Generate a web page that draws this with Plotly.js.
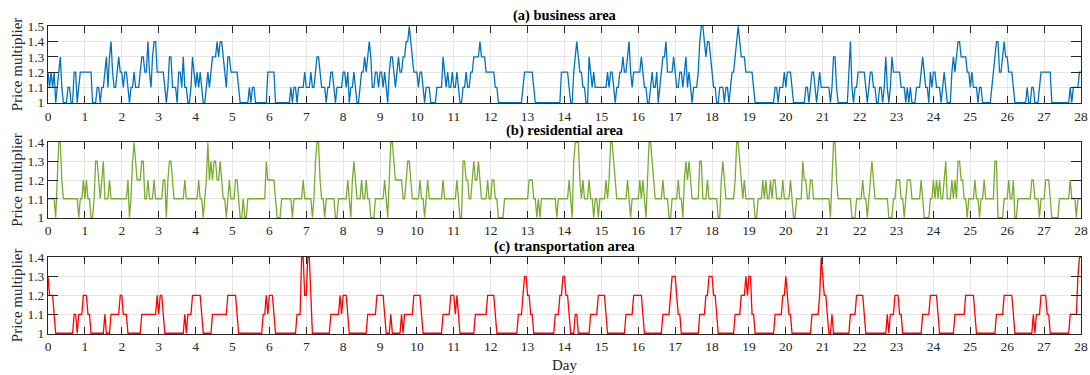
<!DOCTYPE html>
<html><head><meta charset="utf-8">
<script src="https://cdn.plot.ly/plotly-3.0.1.min.js"></script>
<style>html,body{margin:0;padding:0;background:#fff}#chart{width:1090px;height:375px}</style>
</head><body><div id="chart"></div>
<script>
const HOURS_PER_DAY = 24;
const dayTicks = [0,1,2,3,4,5,6,7,8,9,10,11,12,13,14,15,16,17,18,19,20,21,22,23,24,25,26,27,28];
const priceTicksA = [1,1.1,1.2,1.3,1.4,1.5];
const priceTicksBC = [1,1.1,1.2,1.3,1.4];
const panelTitles = ['(a) business area','(b) residential area','(c) transportation area'];

// hourly price multipliers, one line per day (24 values), last value = end of day 28
const business = [
1.2,1.1,1.2,1.1,1.2,1.0,1.1,1.2,1.3,1.1,1.0,1.0,1.0,1.1,1.1,1.0,1.0,1.2,1.2,1.0,1.1,1.2,1.2,1.2,
1.2,1.2,1.2,1.2,1.2,1.0,1.0,1.0,1.1,1.1,1.0,1.1,1.1,1.2,1.3,1.1,1.3,1.4,1.2,1.1,1.1,1.2,1.3,1.2,
1.2,1.1,1.2,1.2,1.1,1.0,1.1,1.1,1.2,1.1,1.1,1.1,1.2,1.3,1.3,1.2,1.2,1.4,1.2,1.1,1.3,1.4,1.4,1.2,
1.2,1.2,1.2,1.2,1.1,1.0,1.1,1.3,1.3,1.1,1.1,1.1,1.0,1.2,1.2,1.1,1.3,1.1,1.1,1.0,1.0,1.1,1.3,1.2,
1.1,1.2,1.1,1.2,1.1,1.0,1.0,1.1,1.2,1.1,1.2,1.3,1.3,1.3,1.4,1.3,1.4,1.4,1.3,1.2,1.1,1.3,1.3,1.2,
1.2,1.2,1.2,1.2,1.1,1.0,1.0,1.0,1.0,1.0,1.0,1.1,1.0,1.1,1.1,1.0,1.0,1.0,1.0,1.0,1.0,1.0,1.0,1.2,
1.2,1.2,1.2,1.2,1.0,1.0,1.0,1.0,1.0,1.0,1.0,1.0,1.0,1.0,1.1,1.0,1.1,1.1,1.0,1.1,1.1,1.1,1.1,1.2,
1.1,1.1,1.1,1.2,1.1,1.1,1.2,1.3,1.3,1.2,1.1,1.1,1.1,1.0,1.1,1.1,1.2,1.2,1.1,1.0,1.1,1.1,1.1,1.1,
1.2,1.2,1.1,1.2,1.0,1.1,1.1,1.2,1.1,1.0,1.0,1.1,1.2,1.2,1.3,1.2,1.3,1.4,1.3,1.1,1.1,1.2,1.2,1.1,
1.2,1.2,1.1,1.2,1.1,1.0,1.2,1.3,1.3,1.2,1.1,1.2,1.3,1.2,1.2,1.3,1.3,1.4,1.4,1.5,1.4,1.3,1.2,1.2,
1.2,1.1,1.2,1.2,1.1,1.0,1.1,1.1,1.1,1.0,1.0,1.0,1.0,1.1,1.1,1.1,1.1,1.3,1.2,1.1,1.2,1.1,1.1,1.2,
1.1,1.1,1.2,1.1,1.0,1.0,1.1,1.1,1.2,1.1,1.1,1.2,1.2,1.3,1.3,1.3,1.3,1.4,1.3,1.3,1.3,1.2,1.2,1.2,
1.2,1.2,1.2,1.1,1.1,1.0,1.0,1.0,1.0,1.0,1.0,1.0,1.0,1.0,1.0,1.0,1.0,1.0,1.0,1.0,1.0,1.1,1.2,1.2,
1.2,1.2,1.2,1.2,1.1,1.0,1.0,1.0,1.0,1.0,1.0,1.0,1.0,1.0,1.0,1.0,1.0,1.0,1.0,1.0,1.0,1.0,1.2,1.2,
1.2,1.2,1.2,1.1,1.0,1.0,1.2,1.3,1.4,1.3,1.2,1.2,1.1,1.1,1.0,1.0,1.3,1.2,1.1,1.2,1.1,1.1,1.1,1.1,
1.1,1.1,1.1,1.1,1.2,1.1,1.2,1.2,1.1,1.0,1.1,1.1,1.2,1.2,1.3,1.2,1.2,1.3,1.4,1.2,1.1,1.2,1.2,1.2,
1.2,1.2,1.3,1.2,1.1,1.1,1.0,1.0,1.1,1.2,1.1,1.1,1.2,1.0,1.1,1.2,1.3,1.3,1.4,1.2,1.2,1.2,1.2,1.3,
1.2,1.1,1.1,1.2,1.2,1.1,1.2,1.3,1.1,1.2,1.1,1.0,1.1,1.1,1.1,1.2,1.4,1.5,1.5,1.4,1.3,1.4,1.4,1.3,
1.2,1.1,1.1,1.0,1.0,1.1,1.1,1.1,1.0,1.1,1.1,1.0,1.1,1.2,1.2,1.3,1.4,1.5,1.4,1.3,1.3,1.3,1.2,1.2,
1.2,1.2,1.2,1.1,1.0,1.0,1.0,1.0,1.0,1.0,1.0,1.0,1.0,1.0,1.0,1.0,1.0,1.1,1.1,1.0,1.1,1.1,1.1,1.2,
1.1,1.2,1.2,1.2,1.1,1.0,1.0,1.0,1.0,1.0,1.0,1.0,1.0,1.1,1.1,1.0,1.1,1.2,1.2,1.1,1.0,1.1,1.2,1.1,
1.1,1.1,1.1,1.1,1.1,1.0,1.1,1.3,1.3,1.1,1.0,1.0,1.0,1.0,1.0,1.0,1.0,1.2,1.4,1.1,1.0,1.1,1.1,1.2,
1.2,1.2,1.2,1.2,1.1,1.0,1.1,1.2,1.2,1.1,1.1,1.0,1.0,1.1,1.1,1.0,1.1,1.3,1.1,1.0,1.1,1.3,1.2,1.2,
1.2,1.2,1.2,1.1,1.1,1.1,1.0,1.1,1.0,1.1,1.0,1.0,1.0,1.1,1.1,1.1,1.2,1.3,1.2,1.1,1.1,1.0,1.2,1.1,
1.2,1.2,1.1,1.1,1.1,1.0,1.1,1.2,1.1,1.0,1.0,1.0,1.2,1.3,1.2,1.3,1.4,1.4,1.3,1.3,1.3,1.3,1.2,1.2,
1.1,1.2,1.1,1.1,1.1,1.0,1.1,1.1,1.0,1.0,1.0,1.0,1.0,1.0,1.1,1.2,1.3,1.4,1.4,1.2,1.2,1.3,1.4,1.3,
1.3,1.2,1.2,1.2,1.1,1.0,1.0,1.0,1.0,1.0,1.0,1.0,1.0,1.1,1.0,1.0,1.1,1.1,1.0,1.0,1.0,1.1,1.2,1.2,
1.2,1.2,1.2,1.2,1.2,1.0,1.0,1.0,1.0,1.0,1.0,1.0,1.0,1.0,1.0,1.0,1.0,1.1,1.0,1.1,1.1,1.1,1.1,1.2,
1.2];

const residential = [
1.1,1.1,1.1,1.1,1.1,1.0,1.2,1.4,1.4,1.2,1.1,1.1,1.1,1.1,1.1,1.1,1.1,1.1,1.1,1.1,1.0,1.1,1.1,1.2,
1.1,1.2,1.1,1.1,1.0,1.0,1.1,1.3,1.3,1.2,1.1,1.2,1.3,1.1,1.1,1.1,1.2,1.1,1.1,1.1,1.1,1.1,1.1,1.1,
1.1,1.1,1.1,1.1,1.2,1.0,1.1,1.3,1.4,1.3,1.2,1.2,1.2,1.3,1.3,1.1,1.1,1.2,1.1,1.1,1.1,1.2,1.1,1.1,
1.1,1.1,1.1,1.2,1.2,1.0,1.2,1.3,1.3,1.2,1.1,1.1,1.1,1.1,1.1,1.1,1.1,1.2,1.1,1.1,1.1,1.1,1.1,1.1,
1.1,1.1,1.2,1.1,1.1,1.0,1.1,1.2,1.4,1.2,1.3,1.2,1.3,1.3,1.2,1.2,1.3,1.2,1.1,1.1,1.0,1.1,1.2,1.1,
1.1,1.1,1.2,1.2,1.1,1.0,1.0,1.1,1.0,1.0,1.1,1.1,1.1,1.1,1.1,1.1,1.1,1.1,1.1,1.1,1.1,1.1,1.3,1.2,
1.2,1.2,1.2,1.2,1.1,1.0,1.0,1.0,1.1,1.1,1.1,1.1,1.1,1.1,1.1,1.0,1.1,1.1,1.1,1.1,1.1,1.1,1.2,1.1,
1.1,1.1,1.1,1.1,1.0,1.1,1.3,1.4,1.4,1.2,1.1,1.1,1.0,1.1,1.1,1.1,1.1,1.1,1.1,1.0,1.0,1.1,1.1,1.1,
1.1,1.1,1.1,1.2,1.1,1.0,1.2,1.3,1.2,1.1,1.1,1.1,1.2,1.1,1.1,1.2,1.1,1.1,1.0,1.0,1.0,1.1,1.1,1.1,
1.1,1.1,1.1,1.2,1.1,1.0,1.2,1.4,1.4,1.3,1.2,1.2,1.2,1.2,1.2,1.1,1.1,1.2,1.3,1.3,1.2,1.1,1.1,1.1,
1.1,1.1,1.2,1.1,1.1,1.0,1.1,1.2,1.1,1.1,1.1,1.1,1.1,1.1,1.1,1.1,1.1,1.2,1.1,1.1,1.1,1.1,1.1,1.1,
1.1,1.1,1.2,1.1,1.0,1.0,1.3,1.3,1.2,1.2,1.1,1.1,1.2,1.3,1.2,1.2,1.3,1.2,1.1,1.1,1.1,1.1,1.2,1.1,
1.1,1.2,1.2,1.1,1.1,1.0,1.0,1.0,1.0,1.1,1.1,1.1,1.1,1.1,1.1,1.1,1.1,1.1,1.1,1.1,1.1,1.1,1.1,1.1,
1.1,1.2,1.2,1.2,1.1,1.1,1.0,1.1,1.0,1.1,1.1,1.1,1.1,1.1,1.1,1.1,1.1,1.1,1.1,1.0,1.1,1.1,1.1,1.1,
1.1,1.1,1.1,1.2,1.1,1.0,1.3,1.4,1.4,1.4,1.2,1.1,1.2,1.1,1.1,1.1,1.2,1.1,1.1,1.0,1.1,1.1,1.0,1.1,
1.1,1.1,1.1,1.2,1.1,1.2,1.4,1.4,1.3,1.2,1.1,1.1,1.1,1.1,1.1,1.1,1.1,1.2,1.1,1.0,1.1,1.1,1.1,1.1,
1.1,1.2,1.1,1.2,1.1,1.0,1.2,1.4,1.4,1.3,1.2,1.1,1.1,1.1,1.1,1.1,1.2,1.1,1.1,1.1,1.0,1.0,1.1,1.1,
1.1,1.1,1.2,1.1,1.1,1.0,1.2,1.3,1.2,1.3,1.2,1.1,1.1,1.1,1.1,1.1,1.3,1.3,1.1,1.1,1.1,1.2,1.1,1.1,
1.1,1.1,1.1,1.1,1.0,1.0,1.2,1.3,1.2,1.1,1.1,1.1,1.1,1.1,1.1,1.2,1.4,1.4,1.3,1.2,1.1,1.2,1.1,1.1,
1.1,1.1,1.1,1.1,1.0,1.0,1.1,1.1,1.1,1.2,1.1,1.2,1.1,1.1,1.2,1.1,1.2,1.2,1.1,1.1,1.1,1.1,1.2,1.1,
1.1,1.1,1.1,1.2,1.1,1.0,1.0,1.1,1.1,1.1,1.1,1.3,1.2,1.2,1.1,1.1,1.2,1.2,1.1,1.1,1.1,1.1,1.1,1.1,
1.1,1.1,1.1,1.1,1.1,1.0,1.2,1.4,1.4,1.2,1.1,1.1,1.1,1.1,1.1,1.1,1.1,1.1,1.1,1.0,1.0,1.0,1.1,1.1,
1.1,1.1,1.2,1.1,1.1,1.0,1.1,1.2,1.3,1.2,1.1,1.1,1.1,1.1,1.1,1.1,1.1,1.1,1.1,1.0,1.0,1.0,1.1,1.1,
1.2,1.2,1.2,1.1,1.1,1.0,1.1,1.2,1.2,1.2,1.1,1.1,1.1,1.1,1.1,1.1,1.2,1.1,1.0,1.0,1.0,1.0,1.1,1.1,
1.2,1.1,1.2,1.1,1.2,1.1,1.1,1.2,1.3,1.1,1.1,1.1,1.2,1.1,1.2,1.1,1.3,1.3,1.2,1.2,1.1,1.1,1.0,1.1,
1.1,1.1,1.1,1.2,1.1,1.1,1.0,1.1,1.1,1.2,1.1,1.1,1.1,1.1,1.1,1.1,1.3,1.3,1.0,1.0,1.0,1.0,1.1,1.1,
1.1,1.2,1.1,1.1,1.2,1.0,1.0,1.1,1.1,1.1,1.1,1.1,1.1,1.1,1.1,1.1,1.2,1.2,1.1,1.1,1.1,1.0,1.1,1.1,
1.1,1.2,1.2,1.2,1.1,1.0,1.0,1.0,1.0,1.0,1.1,1.1,1.1,1.1,1.1,1.1,1.1,1.2,1.1,1.1,1.1,1.0,1.1,1.1,
1.1];

const transportation = [
1.3,1.2,1.2,1.2,1.1,1.0,1.0,1.0,1.0,1.0,1.0,1.0,1.0,1.0,1.0,1.0,1.0,1.1,1.1,1.0,1.1,1.1,1.1,1.2,
1.2,1.2,1.1,1.1,1.0,1.0,1.0,1.0,1.0,1.0,1.0,1.0,1.0,1.1,1.0,1.0,1.0,1.1,1.1,1.1,1.1,1.1,1.1,1.2,
1.2,1.1,1.1,1.1,1.0,1.0,1.0,1.0,1.0,1.0,1.0,1.0,1.0,1.1,1.1,1.1,1.1,1.1,1.1,1.1,1.1,1.1,1.1,1.2,
1.1,1.2,1.2,1.1,1.0,1.0,1.0,1.0,1.0,1.0,1.0,1.0,1.0,1.0,1.0,1.0,1.0,1.1,1.0,1.1,1.1,1.1,1.2,1.2,
1.2,1.2,1.2,1.2,1.1,1.0,1.0,1.0,1.0,1.0,1.0,1.1,1.1,1.1,1.1,1.1,1.1,1.1,1.1,1.1,1.1,1.2,1.2,1.2,
1.2,1.2,1.2,1.1,1.0,1.0,1.0,1.0,1.0,1.0,1.0,1.0,1.0,1.0,1.0,1.0,1.0,1.0,1.0,1.0,1.1,1.1,1.2,1.1,
1.2,1.2,1.2,1.1,1.0,1.0,1.0,1.0,1.0,1.0,1.0,1.0,1.0,1.0,1.0,1.0,1.0,1.0,1.1,1.1,1.1,1.4,1.4,1.2,
1.2,1.4,1.4,1.2,1.0,1.0,1.0,1.0,1.0,1.0,1.0,1.0,1.0,1.0,1.0,1.0,1.1,1.1,1.1,1.1,1.1,1.1,1.2,1.1,
1.2,1.2,1.2,1.1,1.0,1.0,1.0,1.0,1.0,1.0,1.0,1.0,1.0,1.0,1.0,1.0,1.1,1.1,1.1,1.1,1.1,1.1,1.2,1.2,
1.2,1.2,1.2,1.1,1.0,1.0,1.0,1.1,1.0,1.0,1.0,1.0,1.0,1.0,1.1,1.0,1.1,1.1,1.1,1.1,1.1,1.1,1.2,1.2,
1.2,1.2,1.2,1.1,1.0,1.0,1.0,1.0,1.0,1.0,1.0,1.0,1.0,1.0,1.0,1.0,1.0,1.1,1.1,1.1,1.1,1.1,1.2,1.2,
1.2,1.1,1.2,1.1,1.0,1.0,1.0,1.0,1.0,1.0,1.0,1.0,1.0,1.0,1.1,1.1,1.1,1.1,1.1,1.1,1.1,1.1,1.2,1.2,
1.2,1.2,1.2,1.1,1.0,1.0,1.0,1.0,1.0,1.0,1.0,1.0,1.0,1.0,1.0,1.0,1.0,1.0,1.1,1.1,1.1,1.2,1.3,1.3,
1.2,1.2,1.1,1.1,1.0,1.0,1.0,1.0,1.0,1.0,1.0,1.0,1.0,1.0,1.0,1.0,1.0,1.0,1.1,1.1,1.1,1.2,1.2,1.3,
1.3,1.2,1.2,1.1,1.0,1.0,1.0,1.1,1.1,1.0,1.0,1.0,1.0,1.0,1.0,1.0,1.0,1.1,1.1,1.1,1.1,1.1,1.2,1.2,
1.2,1.2,1.2,1.1,1.0,1.0,1.0,1.0,1.0,1.0,1.0,1.0,1.0,1.0,1.0,1.0,1.1,1.1,1.1,1.1,1.1,1.2,1.2,1.2,
1.2,1.2,1.2,1.1,1.0,1.0,1.0,1.0,1.0,1.0,1.0,1.0,1.0,1.0,1.0,1.0,1.1,1.1,1.1,1.1,1.1,1.2,1.3,1.3,
1.3,1.2,1.1,1.1,1.0,1.0,1.0,1.0,1.0,1.0,1.0,1.0,1.0,1.0,1.0,1.0,1.1,1.1,1.1,1.1,1.2,1.2,1.3,1.3,
1.3,1.2,1.2,1.1,1.0,1.0,1.0,1.0,1.0,1.0,1.0,1.0,1.0,1.0,1.0,1.1,1.1,1.1,1.1,1.2,1.2,1.2,1.3,1.2,
1.3,1.3,1.1,1.1,1.0,1.0,1.0,1.0,1.0,1.0,1.0,1.0,1.0,1.0,1.0,1.0,1.0,1.1,1.1,1.1,1.1,1.1,1.2,1.2,
1.3,1.2,1.1,1.1,1.0,1.0,1.0,1.0,1.0,1.0,1.0,1.0,1.0,1.0,1.0,1.0,1.0,1.1,1.1,1.1,1.1,1.1,1.2,1.4,
1.3,1.2,1.2,1.1,1.0,1.0,1.1,1.0,1.0,1.0,1.0,1.0,1.0,1.0,1.0,1.0,1.0,1.0,1.1,1.1,1.1,1.1,1.2,1.2,
1.2,1.2,1.2,1.1,1.0,1.0,1.0,1.0,1.0,1.0,1.0,1.0,1.0,1.0,1.0,1.0,1.0,1.0,1.1,1.0,1.1,1.1,1.1,1.2,
1.2,1.2,1.1,1.1,1.0,1.0,1.0,1.0,1.0,1.0,1.0,1.0,1.0,1.0,1.0,1.0,1.0,1.1,1.1,1.1,1.1,1.1,1.2,1.2,
1.2,1.2,1.2,1.1,1.0,1.0,1.0,1.0,1.0,1.0,1.0,1.0,1.0,1.0,1.1,1.1,1.1,1.1,1.1,1.1,1.1,1.2,1.2,1.2,
1.2,1.2,1.2,1.1,1.0,1.0,1.0,1.0,1.0,1.0,1.0,1.0,1.0,1.0,1.0,1.0,1.0,1.1,1.1,1.1,1.1,1.1,1.2,1.2,
1.2,1.2,1.2,1.2,1.1,1.0,1.0,1.0,1.0,1.0,1.0,1.0,1.0,1.0,1.0,1.0,1.0,1.1,1.0,1.1,1.1,1.1,1.2,1.2,
1.2,1.2,1.1,1.1,1.0,1.0,1.0,1.0,1.0,1.0,1.0,1.0,1.0,1.0,1.0,1.0,1.0,1.1,1.1,1.1,1.1,1.1,1.3,1.4,
1.4];

const dayAxis = business.map((_, i) => i / HOURS_PER_DAY);

const FONT = 'Liberation Serif';
const AXIS = '#262626';
const GRID = '#e6e6e6';
const colors = ['#0072BD', '#77AC30', '#FF0000'];
const series = [business, residential, transportation];
const domains = [[0.7245, 0.9315], [0.4179, 0.6221], [0.1093, 0.3155]];
const titleY = [0.96, 0.652, 0.3427];

const traces = series.map((vals, k) => ({
  type: 'scatter', mode: 'lines', x: dayAxis, y: vals,
  xaxis: k === 0 ? 'x' : 'x' + (k + 1), yaxis: k === 0 ? 'y' : 'y' + (k + 1),
  line: { color: colors[k], width: 1.3 }, hoverinfo: 'skip', showlegend: false
}));

function xAxis(anchor, withTitle) {
  const ax = {
    domain: [0, 1], anchor: anchor, range: [0, 28],
    tickmode: 'array', tickvals: dayTicks, ticktext: dayTicks.map(String),
    ticks: 'inside', ticklen: 7, tickwidth: 1, tickcolor: AXIS,
    showline: true, linecolor: AXIS, linewidth: 1, mirror: 'ticks',
    showgrid: true, gridcolor: GRID, gridwidth: 1, zeroline: false,
    tickfont: { family: FONT, size: 13.5, color: AXIS }, fixedrange: true
  };
  if (withTitle) ax.title = { text: 'Day', font: { family: FONT, size: 15, color: AXIS }, standoff: 6 };
  return ax;
}
function yAxis(anchor, k, ticks, top) {
  return {
    domain: domains[k], anchor: anchor, range: [0.996, top + 0.004],
    tickmode: 'array', tickvals: ticks, ticktext: ticks.map(String),
    ticks: 'inside', ticklen: 10, tickwidth: 1, tickcolor: AXIS,
    showline: true, linecolor: AXIS, linewidth: 1, mirror: 'ticks',
    showgrid: true, gridcolor: GRID, gridwidth: 1, zeroline: false,
    tickfont: { family: FONT, size: 13.5, color: AXIS }, fixedrange: true,
    title: { text: 'Price multiplier', font: { family: FONT, size: 15, color: AXIS }, standoff: 1 }
  };
}

const layout = {
  width: 1090, height: 375,
  margin: { l: 48, r: 9, t: 0, b: 0, pad: 0 },
  paper_bgcolor: '#ffffff', plot_bgcolor: '#ffffff',
  xaxis: xAxis('y', false), xaxis2: xAxis('y2', false), xaxis3: xAxis('y3', true),
  yaxis: yAxis('x', 0, priceTicksA, 1.5),
  yaxis2: yAxis('x2', 1, priceTicksBC, 1.4),
  yaxis3: yAxis('x3', 2, priceTicksBC, 1.4),
  annotations: panelTitles.map((t, k) => ({
    text: '<b>' + t + '</b>', xref: 'paper', yref: 'paper', x: 0.5, y: titleY[k],
    xanchor: 'center', yanchor: 'middle', showarrow: false,
    font: { family: FONT, size: 14.5, color: '#000000' }
  }))
};

Plotly.newPlot('chart', traces, layout, { staticPlot: true, displayModeBar: false });
</script>
</body></html>
